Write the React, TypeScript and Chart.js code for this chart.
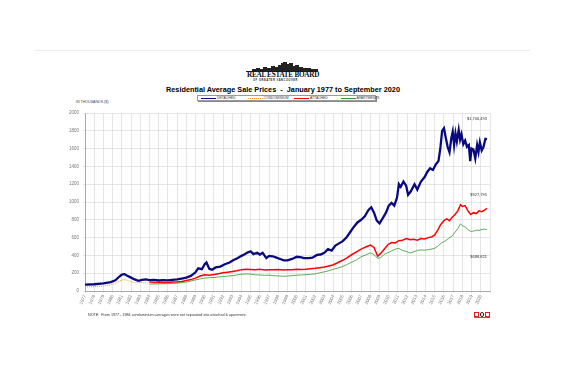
import React, { useEffect, useRef } from "react";
import { Chart, registerables } from "chart.js";
Chart.register(...registerables);

// ---- data (values in thousands of $) ----
const detachedT = [1977.0, 1978.0, 1979.0, 1979.8, 1980.3, 1980.7, 1981.0, 1981.3, 1981.6, 1982.0, 1982.4, 1982.8, 1983.2, 1983.6, 1984.0, 1984.5, 1985.0, 1985.5, 1986.0, 1986.5, 1987.0, 1987.5, 1988.0, 1988.5, 1989.0, 1989.3, 1989.7, 1990.0, 1990.2, 1990.5, 1990.8, 1991.2, 1991.7, 1992.2, 1992.7, 1993.1, 1993.6, 1994.0, 1994.3, 1994.7, 1995.0, 1995.3, 1995.7, 1996.0, 1996.3, 1996.7, 1997.0, 1997.4, 1997.8, 1998.2, 1998.6, 1999.0, 1999.5, 2000.0, 2000.4, 2000.8, 2001.3, 2001.7, 2002.2, 2002.6, 2003.0, 2003.4, 2003.8, 2004.2, 2004.6, 2005.0, 2005.4, 2005.8, 2006.2, 2006.6, 2007.0, 2007.4, 2007.8, 2008.1, 2008.4, 2008.7, 2009.0, 2009.3, 2009.7, 2010.0, 2010.3, 2010.6, 2010.9, 2011.1, 2011.3, 2011.6, 2011.9, 2012.1, 2012.4, 2012.8, 2013.1, 2013.5, 2013.9, 2014.2, 2014.5, 2014.8, 2015.1, 2015.4, 2015.6, 2015.8, 2016.0, 2016.2, 2016.4, 2016.6, 2016.8, 2016.95, 2017.1, 2017.25, 2017.4, 2017.6, 2017.75, 2017.9, 2018.1, 2018.3, 2018.5, 2018.7, 2018.85, 2019.0, 2019.2, 2019.4, 2019.6, 2019.75, 2019.9, 2020.1, 2020.3, 2020.5, 2020.67];
const detachedV = [72, 76, 85, 100, 120, 160, 185, 190, 170, 150, 130, 115, 125, 130, 122, 126, 118, 122, 120, 125, 130, 140, 150, 170, 210, 255, 245, 300, 320, 250, 240, 265, 275, 300, 320, 345, 370, 395, 410, 435, 445, 415, 430, 410, 430, 370, 395, 390, 375, 360, 345, 345, 360, 385, 380, 370, 370, 375, 405, 410, 430, 470, 455, 510, 535, 560, 600, 660, 720, 770, 800, 840, 910, 940, 880, 790, 760, 810, 880, 960, 990, 960, 1050, 1200, 1170, 1230, 1180, 1080, 1120, 1200, 1140, 1230, 1280, 1340, 1380, 1360, 1420, 1460, 1600, 1800, 1830, 1720, 1620, 1560, 1720, 1790, 1640, 1770, 1680, 1810, 1700, 1760, 1650, 1690, 1620, 1640, 1460, 1600, 1590, 1490, 1640, 1560, 1670, 1580, 1620, 1710, 1706];

const condoT = [1977.0, 1978.0, 1979.0, 1979.8, 1980.3, 1980.8, 1981.2, 1981.6, 1982.0, 1982.5, 1983.0, 1983.5, 1984.0, 1984.5, 1985.0];
const condoV = [45, 48, 55, 70, 85, 115, 130, 120, 105, 95, 95, 90, 92, 88, 90];

const attachedT = [1984.0, 1984.5, 1985.0, 1985.5, 1986.0, 1986.5, 1987.0, 1987.5, 1988.0, 1988.5, 1989.0, 1989.5, 1990.0, 1990.5, 1991.0, 1991.5, 1992.0, 1992.5, 1993.0, 1993.5, 1994.0, 1994.5, 1995.0, 1995.5, 1996.0, 1996.5, 1997.0, 1997.5, 1998.0, 1998.5, 1999.0, 1999.5, 2000.0, 2000.5, 2001.0, 2001.5, 2002.0, 2002.5, 2003.0, 2003.5, 2004.0, 2004.5, 2005.0, 2005.5, 2006.0, 2006.5, 2007.0, 2007.5, 2008.0, 2008.4, 2008.8, 2009.1, 2009.5, 2009.9, 2010.3, 2010.7, 2011.1, 2011.5, 2011.9, 2012.3, 2012.7, 2013.1, 2013.5, 2013.9, 2014.3, 2014.7, 2015.0, 2015.3, 2015.6, 2016.0, 2016.3, 2016.6, 2016.9, 2017.2, 2017.5, 2017.8, 2018.0, 2018.3, 2018.6, 2018.9, 2019.2, 2019.5, 2019.8, 2020.1, 2020.4, 2020.67];
const attachedV = [100, 95, 98, 92, 95, 100, 102, 108, 118, 128, 145, 168, 182, 178, 185, 195, 205, 212, 218, 228, 240, 245, 242, 238, 245, 236, 240, 238, 242, 236, 238, 240, 244, 242, 245, 250, 255, 262, 270, 282, 295, 320, 345, 375, 410, 440, 470, 495, 515, 490, 390, 420, 470, 520, 545, 540, 565, 570, 590, 575, 580, 570, 590, 585, 600, 610, 630, 680, 740, 790, 810, 790, 830, 860, 900, 970, 950, 960, 900, 860, 880, 870, 900, 890, 910, 928];

const apartmentT = [1984.0, 1985.0, 1986.0, 1987.0, 1988.0, 1989.0, 1989.5, 1990.0, 1990.5, 1991.0, 1991.5, 1992.0, 1992.5, 1993.0, 1993.5, 1994.0, 1994.5, 1995.0, 1995.5, 1996.0, 1996.5, 1997.0, 1997.5, 1998.0, 1998.5, 1999.0, 1999.5, 2000.0, 2000.5, 2001.0, 2001.5, 2002.0, 2002.5, 2003.0, 2003.5, 2004.0, 2004.5, 2005.0, 2005.5, 2006.0, 2006.5, 2007.0, 2007.5, 2008.0, 2008.4, 2008.8, 2009.1, 2009.5, 2009.9, 2010.3, 2010.7, 2011.1, 2011.5, 2011.9, 2012.3, 2012.7, 2013.1, 2013.5, 2013.9, 2014.3, 2014.7, 2015.0, 2015.4, 2015.8, 2016.1, 2016.5, 2016.9, 2017.2, 2017.5, 2017.8, 2018.0, 2018.3, 2018.6, 2018.9, 2019.2, 2019.5, 2019.8, 2020.1, 2020.4, 2020.67];
const apartmentV = [78, 80, 82, 88, 100, 125, 135, 145, 150, 152, 158, 162, 168, 172, 180, 188, 192, 190, 182, 180, 176, 178, 172, 170, 166, 168, 172, 178, 180, 183, 188, 192, 205, 215, 228, 245, 258, 275, 300, 325, 350, 385, 405, 428, 410, 365, 375, 410, 430, 450, 470, 478, 455, 445, 428, 440, 455, 462, 458, 465, 472, 480, 510, 545, 560, 590, 620, 660, 700, 755, 735, 720, 690, 670, 672, 685, 680, 690, 695, 689];

const endLabels = ["$1,706,493", "$927,795", "$688,821"];
const endLabelAnchors = [1935, 1080, 380];

const legendItems = ["DETACHED", "CONDOMINIUM", "ATTACHED", "APARTMENTS"];
const seriesColors = ["#0a0a80", "#f0a030", "#ff0000", "#2e9a2e"];

const pts = (t: number[], v: number[]) => t.map((x, i) => ({ x, y: v[i] }));

const FONT = "'Liberation Sans', Arial, sans-serif";

const endLabelPlugin = {
  id: "endLabels",
  afterDatasetsDraw(chart: any) {
    const { ctx, chartArea, scales } = chart;
    ctx.save();
    ctx.font = `4px ${FONT}`;
    ctx.fillStyle = "#333";
    ctx.textAlign = "right";
    ctx.textBaseline = "middle";
    endLabels.forEach((s, i) => {
      ctx.fillText(s, chartArea.right - 3, scales.y.getPixelForValue(endLabelAnchors[i]));
    });
    ctx.restore();
  },
};

function ChartCanvas() {
  const ref = useRef<HTMLCanvasElement | null>(null);
  useEffect(() => {
    if (!ref.current) return;
    const chart = new Chart(ref.current, {
      type: "line",
      data: {
        datasets: [
          { label: legendItems[1], data: pts(condoT, condoV), borderColor: seriesColors[1], borderWidth: 1, borderDash: [1, 1] },
          { label: legendItems[3], data: pts(apartmentT, apartmentV), borderColor: seriesColors[3], borderWidth: 0.8 },
          { label: legendItems[2], data: pts(attachedT, attachedV), borderColor: seriesColors[2], borderWidth: 1.5 },
          { label: legendItems[0], data: pts(detachedT, detachedV), borderColor: seriesColors[0], borderWidth: 2.3 },
        ].map((d) => ({ ...d, pointRadius: 0, tension: 0, fill: false })),
      },
      options: {
        animation: false,
        responsive: false,
        devicePixelRatio: 1,
        layout: { padding: { left: 60, right: 76, top: 113, bottom: 68 } },
        plugins: { legend: { display: false }, title: { display: false }, tooltip: { enabled: false } },
        scales: {
          x: {
            type: "linear",
            min: 1977,
            max: 2021,
            ticks: {
              stepSize: 1,
              autoSkip: false,
              minRotation: 65,
              maxRotation: 65,
              padding: 1,
              color: "#777",
              font: { size: 4.5, family: FONT },
              callback: (v: any) => (v < 2021 ? String(v) : ""),
            },
            grid: { color: "#d4d4d4", lineWidth: 0.6, tickLength: 2 },
            border: { color: "#aaa" },
            afterFit: (s: any) => { s.height = 18; },
          },
          y: {
            min: 0,
            max: 2000,
            ticks: {
              stepSize: 200,
              padding: 4,
              color: "#777",
              font: { size: 4.5, family: FONT },
              callback: (v: any) => String(v),
            },
            grid: { color: "#d4d4d4", lineWidth: 0.6, tickLength: 2 },
            border: { color: "#aaa" },
            afterFit: (s: any) => { s.width = 25; },
          },
        },
      },
      plugins: [endLabelPlugin],
    } as any);
    return () => chart.destroy();
  }, []);
  return <canvas ref={ref} width={566} height={377} style={{ position: "absolute", left: 0, top: 0, width: 566, height: 377 }} />;
}

const skyline = [
  [0, 2], [4, 3], [8, 2], [11, 4], [15, 3], [19, 5], [23, 4], [26, 6], [29, 8], [31, 9], [34, 7], [37, 8], [40, 5], [43, 6], [47, 4], [51, 3], [55, 3], [59, 2], [62, 2],
];

export default function App() {
  const abs = (l: number, t: number, extra: any = {}) => ({ position: "absolute" as const, left: l, top: t, ...extra });
  return (
    <div style={{ position: "fixed", left: 0, top: 0, width: 566, height: 377, background: "#fff", overflow: "hidden", fontFamily: FONT }}>
      <div style={abs(35, 50, { width: 495, height: 1, background: "#ececec" })} />
      {/* logo */}
      {skyline.map(([x, h], i) => (
        <div key={i} style={abs(252 + x, 71 - h, { width: 3.5, height: h, background: "#222" })} />
      ))}
      <div style={abs(246, 71, { width: 72, height: 0.8, background: "#222" })} />
      <div style={abs(247, 72, { width: 72, fontFamily: "'Liberation Serif', serif", fontWeight: 700, fontSize: 7.2, lineHeight: "7px", letterSpacing: -0.25, color: "#111", whiteSpace: "nowrap" })}>REAL ESTATE BOARD</div>
      <div style={abs(253, 79, { width: 62, fontSize: 2.6, lineHeight: "3px", letterSpacing: 0.55, color: "#222", whiteSpace: "nowrap", fontWeight: 700 })}>OF GREATER VANCOUVER</div>
      {/* title */}
      <div style={abs(120, 86, { width: 326, textAlign: "center", fontWeight: 700, fontSize: 7.3, lineHeight: "8px", color: "#000", whiteSpace: "pre" })}>
        {"Residential Average Sale Prices  -  January 1977 to September 2020"}
      </div>
      {/* legend */}
      <div style={abs(197, 95, { width: 179, height: 6, border: "0.6px solid #999", boxShadow: "1px 1px 0 #888", background: "#fff", boxSizing: "border-box" })}>
        {legendItems.map((name, i) => (
          <div key={name} style={abs(3 + i * 46.5, 0, { height: 5, display: "flex", alignItems: "center" })}>
            <div style={{ width: 15, height: 0, borderTop: i === 1 ? `0.8px dotted ${seriesColors[1]}` : `${i === 0 ? 1.6 : i === 2 ? 1.4 : 0.8}px solid ${seriesColors[i]}` }} />
            <div style={{ fontSize: 3.4, lineHeight: "5px", color: "#333", marginLeft: 1, whiteSpace: "nowrap" }}>{name}</div>
          </div>
        ))}
      </div>
      <div style={abs(76, 100, { fontSize: 3.6, lineHeight: "4px", color: "#444", whiteSpace: "nowrap" })}>IN THOUSANDS ($)</div>
      <ChartCanvas />
      <div style={abs(88, 313, { fontSize: 3.7, lineHeight: "4px", color: "#333", whiteSpace: "pre" })}>
        {"NOTE:  From 1977 - 1984 condominium averages were not separated into attached & apartment."}
      </div>
      {/* small logos */}
      <div style={abs(474, 312, { width: 4.5, height: 4.5, border: "0.8px solid #d22", boxSizing: "border-box" })} />
      <div style={abs(479.5, 312, { width: 4.5, height: 4.5, border: "0.8px solid #222", borderRadius: 2, boxSizing: "border-box" })} />
      <div style={abs(485, 312, { width: 4.5, height: 4.5, border: "0.8px solid #d22", boxSizing: "border-box" })} />
      <div style={abs(474, 317.3, { width: 15.5, height: 1, background: "#c44" })} />
    </div>
  );
}
